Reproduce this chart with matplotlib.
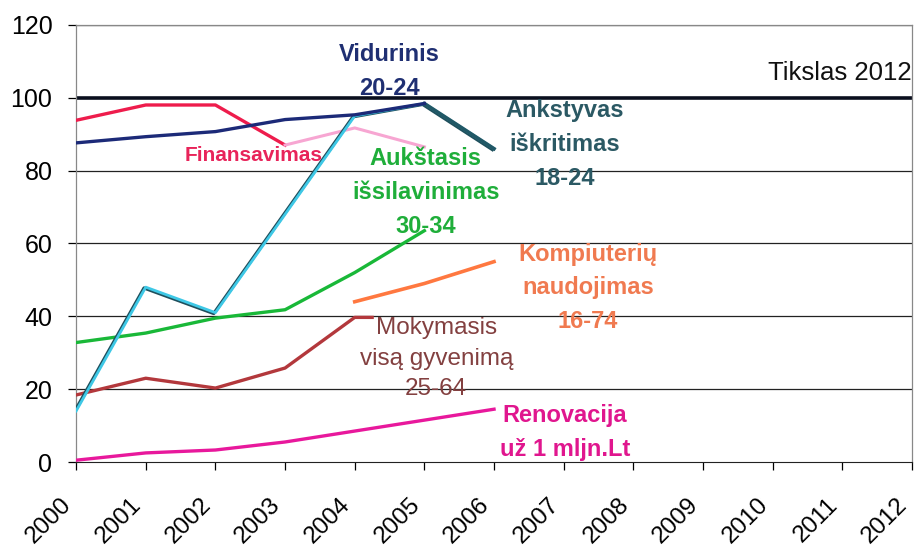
import matplotlib
matplotlib.use("Agg")
import matplotlib.pyplot as plt
import matplotlib.patheffects as pe
from matplotlib.transforms import ScaledTranslation

plt.rcParams["font.family"] = ["Liberation Sans", "DejaVu Sans"]

years = list(range(2000, 2013))
year_labels = [str(y) for y in years]

vidurinis_x = [2000, 2001, 2002, 2003, 2004, 2005]
vidurinis = [87.6, 89.3, 90.7, 94.0, 95.3, 98.4]

ankstyvas_x = [2000, 2001, 2002, 2003, 2004, 2005, 2006]
ankstyvas = [14, 48, 41, 68, 95, 98.4, 86]

finans_x = [2000, 2001, 2002, 2003]
finans = [93.8, 98.0, 98.0, 87.0]
finans_pink_x = [2003, 2004, 2005]
finans_pink = [87.0, 91.7, 86.5]

aukstasis_x = [2000, 2001, 2002, 2003, 2004, 2005]
aukstasis = [32.8, 35.4, 39.5, 41.8, 52.0, 63.5]

mokymasis_x = [2000, 2001, 2002, 2003, 2004, 2004.25]
mokymasis = [18.4, 23.0, 20.3, 25.8, 39.7, 39.7]

kompiuteriai_x = [2004, 2005, 2006]
kompiuteriai = [44.0, 49.0, 55.0]

renovacija_x = [2000, 2001, 2002, 2003, 2004, 2005, 2006]
renovacija = [0.5, 2.5, 3.3, 5.5, 8.5, 11.5, 14.5]

target = 100

fig = plt.figure(figsize=(9.17, 5.52), dpi=100)
ax = fig.add_axes([0.083, 0.163, 0.9115, 0.792])

for g in [20, 40, 60, 80, 120]:
    ax.axhline(g, color="#222222", lw=0.9, zorder=1)
ax.axhline(target, color="#0a0f1e", lw=2.6, zorder=2)

ax.plot(renovacija_x, renovacija, color="#e8189c", lw=2.4, zorder=3)
ax.plot(mokymasis_x, mokymasis, color="#b3383c", lw=2.4, zorder=3)
ax.plot(kompiuteriai_x, kompiuteriai, color="#ff7840", lw=2.6, zorder=3)
ax.plot(aukstasis_x, aukstasis, color="#19b838", lw=2.4, zorder=3)
ax.plot(finans_x, finans, color="#ee1c4c", lw=2.4, zorder=3)
ax.plot(finans_pink_x, finans_pink, color="#f7a6d2", lw=2.2, zorder=3)
# scanned look: cyan line with a dark teal edge, last stretch plain dark teal
ax.plot(ankstyvas_x, ankstyvas, color="#3ec8e6", lw=2.0, zorder=4,
        path_effects=[pe.SimpleLineShadow(offset=(-1.2, -0.6), shadow_color="#1f4f5c",
                                          alpha=1.0, linewidth=2.4),
                      pe.Normal()])
ax.plot(ankstyvas_x[-2:], ankstyvas[-2:], color="#215866", lw=2.6, zorder=4)
ax.plot(vidurinis_x, vidurinis, color="#1c2a78", lw=2.4, zorder=5)

ax.set_xlim(2000, 2012)
ax.set_ylim(0, 120)
ax.set_yticks([0, 20, 40, 60, 80, 100, 120])
ax.set_xticks(years)
ax.set_xticklabels(year_labels, rotation=45, ha="right", va="top", fontsize=17.5)
shift = ScaledTranslation(-0.09, 0, fig.dpi_scale_trans)
for t in ax.get_xticklabels():
    t.set_transform(t.get_transform() + shift)
ax.tick_params(axis="y", labelsize=18, length=6, width=0.9, pad=11)
ax.tick_params(axis="x", length=6, width=0.9, pad=17)

for side in ["left", "right", "top"]:
    ax.spines[side].set_color("#888888")
    ax.spines[side].set_linewidth(0.9)
ax.spines["bottom"].set_color("#222222")

lbl = dict(ha="center", va="center", fontweight="bold", linespacing=1.6)
ax.text(2004.5, 107.2, "Vidurinis\n20-24", color="#1f2f72", fontsize=17, **lbl)
ax.text(2007.02, 87.1, "Ankstyvas\niškritimas\n18-24", color="#2b5964", fontsize=17, **lbl)
ax.text(2002.55, 84.1, "Finansavimas", color="#e8245a", fontsize=15, **lbl)
ax.text(2005.02, 73.9, "Aukštasis\nišsilavinimas\n30-34", color="#1fae3a", fontsize=17, **lbl)
ax.text(2007.35, 47.8, "Kompiuterių\nnaudojimas\n16-74", color="#f07a50", fontsize=17, **lbl)
ax.text(2005.17, 28.3, "Mokymasis\nvisą gyvenimą\n25-64", color="#834040", fontsize=17.5,
        ha="center", va="center", linespacing=1.5)
ax.text(2007.02, 8.2, "Renovacija\nuž 1 mljn.Lt", color="#e0168e", fontsize=17, **lbl)
ax.text(2012, 106.9, "Tikslas 2012", color="#111111", fontsize=18.5, ha="right", va="center")

fig.savefig("out.png", dpi=100)
